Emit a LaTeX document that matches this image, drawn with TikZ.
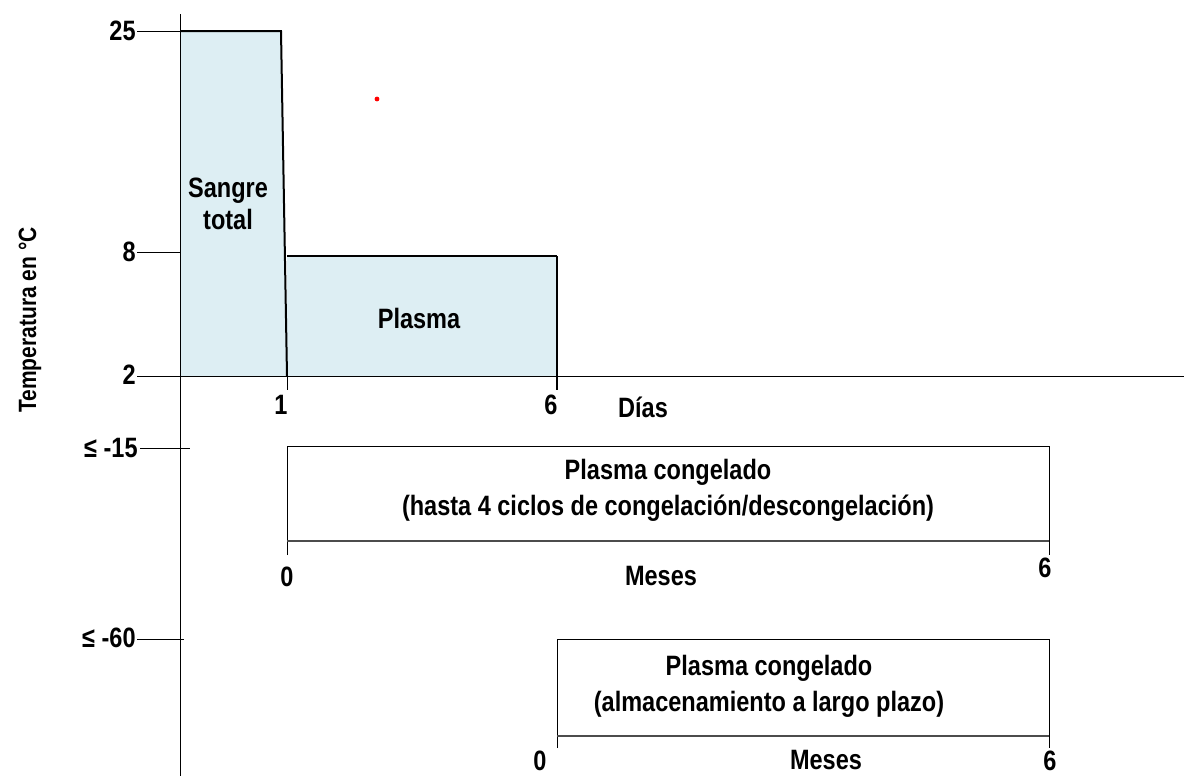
\documentclass[tikz,border=0pt]{standalone}
\usepackage{fontspec}
\setmainfont{Liberation Sans}[FakeStretch=0.84]
\usetikzlibrary{calc}
\definecolor{hellblau}{HTML}{DDEEF3}
\tikzset{
  achse/.style={line width=0.5pt},
  kante/.style={line width=1pt},
  beschr/.style={inner sep=1pt},
}
\begin{document}
\begin{tikzpicture}[x=0.5pt,y=-0.5pt,font=\bfseries\fontsize{14}{16}\selectfont]
    \useasboundingbox (0,0) rectangle (1184,776);
    % Flaechen
    \fill[hellblau] (180,31) -- (281,31) -- (287,376) -- (180,376) -- cycle;
    \fill[hellblau] (287,256) rectangle (557,376);
    % Koordinatensystem
    \draw[achse] (180,14) -- (180,776);
    \draw[achse] (137,376) -- (1184,376);
    \draw[achse] (137,31) -- (180,31);
    \draw[achse] (137,252) -- (180,252);
    \draw[achse] (140,448) -- (190,448);
    \draw[achse] (137,639) -- (184,639);
    \node[beschr, anchor=east] (t25) at (138,31) {25};
    \node[beschr, anchor=east] (t8) at (138,252) {8};
    \node[beschr, anchor=east] (t2) at (138,375) {2};
    \node[beschr, anchor=east] (t15) at (140,448) {≤ -15};
    \node[beschr, anchor=east] (t60) at (138,638) {≤ -60};
    \node[rotate=90, font=\bfseries\fontsize{12.5}{15}\selectfont] (ylabel) at (30,320) {Temperatura en °C};
    % Sangre total
    \draw[kante] (180,31) -- (281,31) -- (287,376);
    \node[align=center] (sangre) at (228,204) {Sangre\\total};
    % Plasma
    \draw[kante] (287,256) -- (557,256);
    \draw[achse, line width=0.8pt] (557,256) -- (557,390);
    \draw[achse] (287,376) -- (287,390);
    \node (plasma) at (419,318) {Plasma};
    \node (d1) at (281,405) {1};
    \node (d6) at (551,405) {6};
    \node (dias) at (643,407) {Días};
    \fill[red] (377,99) circle (2.4);
    % congelado -15
    \draw[achse] (287,555) -- (287,446) -- (1049,446) -- (1049,555);
    \draw[line width=1pt, black!70] (287,541) -- (1049,541);
    \node[align=center] (cong1) at (668,490) {Plasma congelado\\[2pt](hasta 4 ciclos de congelación/descongelación)};
    \node (m0a) at (287,577) {0};
    \node (mesesa) at (661,576) {Meses};
    \node (m6a) at (1045,568) {6};
    % congelado -60
    \draw[achse] (557,748) -- (557,639) -- (1049,639) -- (1049,748);
    \draw[line width=1pt, black!70] (557,736) -- (1049,736);
    \node[align=center] (cong2) at (769,686) {Plasma congelado\\[2pt](almacenamiento a largo plazo)};
    \node[inner sep=0pt, anchor=south] (m0b) at (540,771) {0};
    \node[inner sep=0pt, anchor=base] (mesesb) at (826,769) {Meses};
    \node (m6b) at (1050,761) {6};
\end{tikzpicture}
\end{document}
